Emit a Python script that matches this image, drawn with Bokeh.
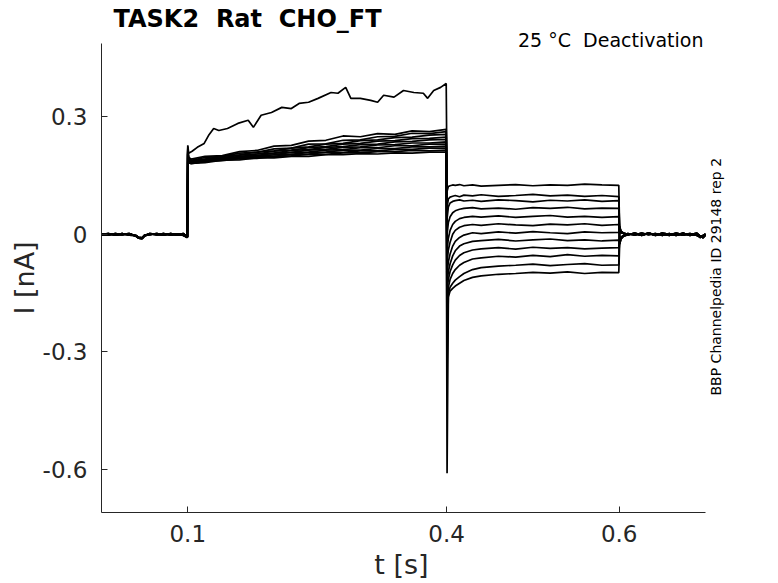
from bokeh.plotting import figure
from bokeh.models import FixedTicker, Label, Range1d, ColumnDataSource
from bokeh.embed import file_html
from bokeh.resources import INLINE
import math

# ---------------- data ----------------
# holding segment, 0 - 0.1 s
T_PRE = [0.000, 0.008, 0.016, 0.024, 0.032, 0.040, 0.043, 0.047, 0.050, 0.056,
         0.064, 0.072, 0.080, 0.088, 0.095, 0.0995]
PRE_1 = [0.001, -0.002, 0.002, -0.001, 0.001, -0.004, -0.010, -0.011, -0.004, 0.001,
         -0.001, 0.002, -0.002, 0.001, -0.003, -0.008]
PRE_2 = [-0.002, 0.001, -0.001, 0.002, -0.002, -0.003, -0.008, -0.009, -0.002, -0.001,
         0.002, -0.001, 0.001, -0.002, 0.000, -0.006]
PRE_3 = [0.000, 0.002, -0.002, 0.000, 0.002, -0.005, -0.009, -0.010, -0.003, 0.002,
         0.000, -0.002, 0.002, -0.001, 0.002, -0.007]

# activating step, 0.1 - 0.4 s
T_BIG = [0.1000, 0.1010, 0.1050, 0.111, 0.119, 0.124, 0.130, 0.136, 0.146, 0.158,
         0.170, 0.176, 0.185, 0.197, 0.209, 0.220, 0.229, 0.240, 0.251, 0.266,
         0.274, 0.283, 0.289, 0.300, 0.312, 0.320, 0.327, 0.339, 0.350, 0.362,
         0.373, 0.378, 0.385, 0.393, 0.3995]
ACT_BIG = [0.227, 0.207, 0.212, 0.222, 0.232, 0.252, 0.270, 0.265, 0.270, 0.283,
           0.291, 0.273, 0.304, 0.311, 0.324, 0.321, 0.334, 0.337, 0.347, 0.362,
           0.360, 0.375, 0.347, 0.347, 0.342, 0.337, 0.355, 0.350, 0.367, 0.362,
           0.360, 0.347, 0.367, 0.375, 0.385]

T_ACT = [0.1000, 0.1010, 0.1040, 0.120, 0.140, 0.160, 0.180, 0.200, 0.220, 0.240,
         0.260, 0.280, 0.300, 0.320, 0.340, 0.360, 0.380, 0.3995]
ACT_1 = [0.224, 0.196, 0.192, 0.199, 0.201, 0.211, 0.214, 0.225, 0.227, 0.238, 0.240, 0.251, 0.249, 0.257, 0.255, 0.264, 0.262, 0.268]
ACT_2 = [0.220, 0.192, 0.189, 0.196, 0.199, 0.207, 0.209, 0.218, 0.220, 0.230, 0.231, 0.240, 0.241, 0.249, 0.250, 0.258, 0.257, 0.262]
ACT_3 = [0.218, 0.190, 0.188, 0.192, 0.199, 0.203, 0.210, 0.213, 0.220, 0.223, 0.230, 0.232, 0.239, 0.241, 0.247, 0.248, 0.253, 0.255]
ACT_4 = [0.215, 0.189, 0.186, 0.192, 0.195, 0.202, 0.205, 0.212, 0.215, 0.221, 0.224, 0.230, 0.232, 0.238, 0.239, 0.244, 0.245, 0.248]
ACT_5 = [0.214, 0.188, 0.187, 0.189, 0.196, 0.198, 0.205, 0.207, 0.214, 0.216, 0.222, 0.224, 0.229, 0.230, 0.236, 0.237, 0.241, 0.242]
ACT_6 = [0.212, 0.187, 0.184, 0.190, 0.192, 0.199, 0.201, 0.207, 0.209, 0.215, 0.217, 0.222, 0.223, 0.228, 0.229, 0.233, 0.233, 0.236]
ACT_7 = [0.210, 0.186, 0.185, 0.187, 0.193, 0.195, 0.201, 0.203, 0.209, 0.210, 0.215, 0.216, 0.221, 0.221, 0.226, 0.226, 0.230, 0.230]
ACT_8 = [0.208, 0.185, 0.182, 0.188, 0.190, 0.196, 0.198, 0.203, 0.204, 0.209, 0.210, 0.215, 0.215, 0.219, 0.219, 0.223, 0.223, 0.225]
ACT_9 = [0.206, 0.184, 0.183, 0.185, 0.191, 0.193, 0.198, 0.199, 0.204, 0.205, 0.209, 0.209, 0.213, 0.213, 0.217, 0.217, 0.220, 0.220]
ACT_10 = [0.205, 0.183, 0.180, 0.186, 0.188, 0.193, 0.194, 0.199, 0.200, 0.204, 0.204, 0.208, 0.208, 0.211, 0.211, 0.214, 0.213, 0.215]
ACT_11 = [0.204, 0.182, 0.181, 0.183, 0.189, 0.190, 0.195, 0.195, 0.199, 0.199, 0.203, 0.203, 0.206, 0.205, 0.208, 0.207, 0.210, 0.210]

# deactivating steps, 0.4 - 0.6 s
T_DEA = [0.4005, 0.402, 0.404, 0.407, 0.410, 0.415, 0.420, 0.430, 0.440, 0.460,
         0.480, 0.500, 0.520, 0.540, 0.560, 0.580, 0.5995]
DEA_1 = [0.110, 0.122, 0.124, 0.126, 0.125, 0.127, 0.124, 0.126, 0.123, 0.125, 0.127, 0.124, 0.126, 0.125, 0.128, 0.126, 0.125]
DEA_2 = [0.070, 0.090, 0.095, 0.097, 0.099, 0.096, 0.100, 0.098, 0.101, 0.097, 0.099, 0.102, 0.098, 0.100, 0.097, 0.099, 0.096]
DEA_3 = [0.040, 0.070, 0.080, 0.084, 0.086, 0.088, 0.085, 0.087, 0.084, 0.088, 0.086, 0.083, 0.087, 0.085, 0.088, 0.084, 0.086]
DEA_4 = [0.000, 0.030, 0.045, 0.055, 0.060, 0.064, 0.066, 0.068, 0.065, 0.067, 0.064, 0.068, 0.066, 0.069, 0.065, 0.067, 0.066]
DEA_5 = [-0.040, -0.010, 0.010, 0.025, 0.033, 0.040, 0.043, 0.046, 0.044, 0.047, 0.043, 0.046, 0.048, 0.044, 0.046, 0.043, 0.045]
DEA_6 = [-0.070, -0.040, -0.020, 0.000, 0.010, 0.018, 0.022, 0.025, 0.023, 0.027, 0.024, 0.022, 0.026, 0.024, 0.027, 0.023, 0.025]
DEA_7 = [-0.100, -0.070, -0.050, -0.030, -0.018, -0.008, -0.002, 0.004, 0.002, 0.006, 0.003, 0.007, 0.004, 0.002, 0.006, 0.004, 0.005]
DEA_8 = [-0.120, -0.095, -0.075, -0.055, -0.042, -0.030, -0.024, -0.018, -0.016, -0.013, -0.017, -0.014, -0.012, -0.016, -0.014, -0.017, -0.015]
DEA_9 = [-0.140, -0.115, -0.095, -0.078, -0.066, -0.054, -0.047, -0.040, -0.037, -0.034, -0.038, -0.033, -0.036, -0.034, -0.037, -0.035, -0.034]
DEA_10 = [-0.220, -0.135, -0.115, -0.100, -0.090, -0.079, -0.072, -0.063, -0.060, -0.056, -0.058, -0.054, -0.057, -0.052, -0.056, -0.054, -0.055]
DEA_11 = [-0.330, -0.150, -0.135, -0.125, -0.117, -0.108, -0.100, -0.090, -0.085, -0.081, -0.079, -0.076, -0.080, -0.077, -0.075, -0.079, -0.078]
DEA_12 = [-0.610, -0.160, -0.145, -0.138, -0.132, -0.125, -0.118, -0.110, -0.106, -0.102, -0.100, -0.097, -0.099, -0.096, -0.100, -0.097, -0.098]

# return to holding, 0.6 - 0.7 s
T_POST = [0.6005, 0.602, 0.605, 0.610, 0.618, 0.626, 0.634, 0.642, 0.650, 0.658,
          0.666, 0.674, 0.682, 0.690, 0.694, 0.697, 0.700]
POST_1 = [0.010, 0.004, 0.002, -0.001, 0.003, -0.002, 0.002, -0.003, 0.001, -0.002, 0.003, -0.001, 0.002, -0.002, -0.008, -0.003, 0.000]
POST_2 = [-0.015, -0.008, -0.003, 0.002, -0.002, 0.003, -0.001, 0.002, -0.003, 0.002, -0.002, 0.003, -0.003, 0.001, -0.004, -0.009, -0.002]
POST_3 = [0.020, 0.008, 0.003, 0.000, 0.002, -0.003, 0.003, -0.001, 0.002, -0.003, 0.001, -0.002, 0.001, -0.003, -0.006, -0.004, 0.001]
POST_4 = [-0.025, -0.012, -0.005, -0.001, 0.001, -0.001, 0.003, -0.002, 0.003, 0.000, -0.003, 0.002, -0.001, 0.003, -0.005, -0.007, -0.001]

X_TICKS = [0.1, 0.4, 0.6]
Y_TICKS = [-0.6, -0.3, 0, 0.3]
X_TICK_LABELS = ["0.1", "0.4", "0.6"]
Y_TICK_LABELS = ["-0.6", "-0.3", "0", "0.3"]
X_LIMITS = (0.0, 0.7)
Y_LIMITS = (-0.71, 0.487)

TITLE = "TASK2 \u00a0Rat \u00a0CHO_FT"
SUBTITLE = "25 °C \u00a0Deactivation"
SIDE_NOTE = "BBP Channelpedia ID 29148 rep 2"
X_LABEL = "t [s]"
Y_LABEL = "I [nA]"

# ---------------- assemble sweeps ----------------
pre_list = [PRE_1, PRE_2, PRE_3]
post_list = [POST_1, POST_2, POST_3, POST_4]
act_list = [(T_BIG, ACT_BIG), (T_ACT, ACT_1), (T_ACT, ACT_2), (T_ACT, ACT_3),
            (T_ACT, ACT_4), (T_ACT, ACT_5), (T_ACT, ACT_6), (T_ACT, ACT_7),
            (T_ACT, ACT_8), (T_ACT, ACT_9), (T_ACT, ACT_10), (T_ACT, ACT_11)]
dea_list = [DEA_1, DEA_2, DEA_3, DEA_4, DEA_5, DEA_6, DEA_7, DEA_8, DEA_9,
            DEA_10, DEA_11, DEA_12]

xs, ys = [], []
for i in range(12):
    ta, va = act_list[i]
    xs.append(T_PRE + ta + T_DEA + T_POST)
    ys.append(pre_list[i % 3] + va + dea_list[i] + post_list[i % 4])
src = ColumnDataSource(dict(xs=xs, ys=ys))

# ---------------- figure ----------------
# frame spans the whole area right of the y axis and above the x axis, the axes are bounded
W, H = 778, 583
LEFT, BOTTOM = 101, 71
ax_px_x = 604.0   # pixels spanned by X_LIMITS
ax_px_y = 469.0   # pixels spanned by Y_LIMITS
sx = ax_px_x / (X_LIMITS[1] - X_LIMITS[0])
sy = ax_px_y / (Y_LIMITS[1] - Y_LIMITS[0])
x_end = X_LIMITS[0] + (W - LEFT) / sx
y_end = Y_LIMITS[0] + (H - BOTTOM) / sy

AX = "#262626"
p = figure(width=W, height=H, x_range=Range1d(X_LIMITS[0], x_end),
           y_range=Range1d(Y_LIMITS[0], y_end),
           output_backend="svg", toolbar_location=None,
           min_border_left=LEFT, min_border_right=0, min_border_top=0,
           min_border_bottom=BOTTOM)
p.background_fill_color = "white"
p.border_fill_color = "white"
p.outline_line_color = None
p.grid.visible = False

p.multi_line(xs="xs", ys="ys", source=src, line_color="black", line_width=1.7)

p.xaxis.bounds = X_LIMITS
p.yaxis.bounds = Y_LIMITS
p.xaxis.ticker = FixedTicker(ticks=X_TICKS)
p.yaxis.ticker = FixedTicker(ticks=Y_TICKS)
p.xaxis.major_label_overrides = dict(zip(X_TICKS, X_TICK_LABELS))
p.yaxis.major_label_overrides = dict(zip(Y_TICKS, Y_TICK_LABELS))
# the axis labels are centred on the (larger) frame; non-breaking padding moves them
# to the centre of the bounded axes
p.xaxis.axis_label = X_LABEL + "\u00a0" * 9
p.yaxis.axis_label = Y_LABEL + "\u00a0" * 5

for ax in (p.xaxis, p.yaxis):
    ax.axis_line_color = AX
    ax.axis_line_width = 1
    ax.major_tick_line_color = AX
    ax.major_tick_in = 6
    ax.major_tick_out = 0
    ax.minor_tick_line_color = None
    ax.major_label_text_font = "DejaVu Sans"
    ax.major_label_text_font_size = "23px"
    ax.major_label_text_color = AX
    ax.axis_label_text_font = "DejaVu Sans"
    ax.axis_label_text_font_size = "27px"
    ax.axis_label_text_font_style = "normal"
    ax.axis_label_text_color = AX
p.xaxis.major_label_standoff = 12
p.xaxis.axis_label_standoff = 4
p.yaxis.major_label_standoff = 14
p.yaxis.axis_label_standoff = 0

def xd(px):
    return X_LIMITS[0] + (px - LEFT) / sx

def yd(py):
    return Y_LIMITS[0] + (H - BOTTOM - py) / sy

p.add_layout(Label(x=xd(113), y=yd(18), text=TITLE, text_align="left",
                   text_baseline="alphabetic", text_font="DejaVu Sans",
                   text_font_size="24px", text_font_style="bold", text_color="black"))
p.add_layout(Label(x=xd(703), y=yd(39), text=SUBTITLE, text_align="right",
                   text_baseline="alphabetic", text_font="DejaVu Sans",
                   text_font_size="19px", text_color="black"))
p.add_layout(Label(x=xd(715), y=yd(395), text=SIDE_NOTE, angle=math.pi / 2,
                   text_align="left", text_baseline="middle", text_font="DejaVu Sans",
                   text_font_size="14px", text_color="black"))

open("out.html", "w").write(file_html(p, INLINE))
